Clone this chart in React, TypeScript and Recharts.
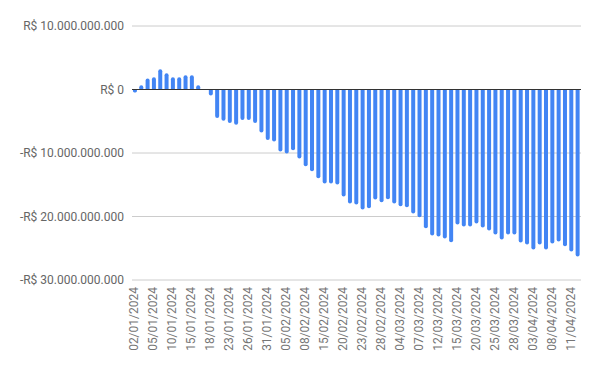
import { Bar, BarChart, CartesianGrid, ReferenceLine, XAxis, YAxis } from 'recharts'

// B3 trading days, Jan 2 – Apr 12 2024
const dates = [
  '02/01/2024', '03/01/2024', '04/01/2024', '05/01/2024', '08/01/2024', '09/01/2024',
  '10/01/2024', '11/01/2024', '12/01/2024', '15/01/2024', '16/01/2024', '17/01/2024',
  '18/01/2024', '19/01/2024', '22/01/2024', '23/01/2024', '24/01/2024', '25/01/2024',
  '26/01/2024', '29/01/2024', '30/01/2024', '31/01/2024', '01/02/2024', '02/02/2024',
  '05/02/2024', '06/02/2024', '07/02/2024', '08/02/2024', '09/02/2024', '14/02/2024',
  '15/02/2024', '16/02/2024', '19/02/2024', '20/02/2024', '21/02/2024', '22/02/2024',
  '23/02/2024', '26/02/2024', '27/02/2024', '28/02/2024', '29/02/2024', '01/03/2024',
  '04/03/2024', '05/03/2024', '06/03/2024', '07/03/2024', '08/03/2024', '11/03/2024',
  '12/03/2024', '13/03/2024', '14/03/2024', '15/03/2024', '18/03/2024', '19/03/2024',
  '20/03/2024', '21/03/2024', '22/03/2024', '25/03/2024', '26/03/2024', '27/03/2024',
  '28/03/2024', '01/04/2024', '02/04/2024', '03/04/2024', '04/04/2024', '05/04/2024',
  '08/04/2024', '09/04/2024', '10/04/2024', '11/04/2024', '12/04/2024',
]

// accumulated balance, in billions of R$
const balance = [
  -0.47, 0.68, 1.73, 1.94, 3.2, 2.57, 1.94, 1.94, 2.25, 2.25, 0.68, -0.05,
  -0.95, -4.47, -4.94, -5.26, -5.57, -4.79, -4.79, -5.26, -6.77, -7.94, -8.2, -9.78,
  -10.08, -9.56, -10.87, -12.08, -12.87, -13.97, -14.8, -14.8, -14.96, -16.85, -17.95, -18.1,
  -18.9, -18.7, -17.32, -17.75, -17.28, -17.95, -18.38, -18.54, -19.53, -20.1, -21.85, -23.0,
  -23.15, -23.46, -24.05, -21.26, -21.57, -21.57, -21.1, -21.73, -22.2, -22.83, -23.62, -22.83,
  -22.83, -24.1, -24.4, -25.2, -24.4, -25.2, -24.25, -23.94, -24.68, -25.5, -26.3,
]

const yTicks = [10, 0, -10, -20, -30]

const data = dates.map((d, i) => ({ date: d, value: balance[i] }))

const FONT = 'Roboto, Arial, sans-serif'

function formatBRL(v: number) {
  const n = Math.round(Math.abs(v) * 1e9)
  const s = n.toString().replace(/\B(?=(\d{3})+(?!\d))/g, '.')
  return `${v < 0 ? '-' : ''}R$ ${s}`
}

// eslint-disable-next-line @typescript-eslint/no-explicit-any
function DateTick(props: any) {
  const { x, y, payload } = props
  return (
    <text
      x={x - 1}
      y={y}
      transform={`rotate(-90, ${x - 1}, ${y})`}
      textAnchor="end"
      dominantBaseline="central"
      fontFamily={FONT}
      fontSize={12}
      fill="#757575"
    >
      {payload.value}
    </text>
  )
}

export default function App() {
  return (
    <div style={{ position: 'absolute', left: 0, top: 0, background: '#fff' }}>
      <BarChart
        width={600}
        height={371}
        data={data}
        margin={{ top: 26, right: 19, left: 0, bottom: 0 }}
        barCategoryGap="15%"
      >
        <CartesianGrid vertical={false} stroke="#cccccc" />
        <XAxis
          dataKey="date"
          interval={2}
          height={91}
          tickLine={false}
          axisLine={false}
          tick={<DateTick />}
          tickMargin={0}
          tickSize={7}
        />
        <YAxis
          width={132}
          domain={[-30, 10]}
          ticks={yTicks}
          tickFormatter={formatBRL}
          axisLine={false}
          tickLine={false}
          tick={{ fill: '#666', fontSize: 12, fontFamily: FONT }}
        />
        <ReferenceLine y={0} stroke="#333333" strokeWidth={1} />
        <Bar
          dataKey="value"
          fill="#4285f4"
          radius={[2, 2, 0, 0]}
          isAnimationActive={false}
        />
      </BarChart>
    </div>
  )
}
